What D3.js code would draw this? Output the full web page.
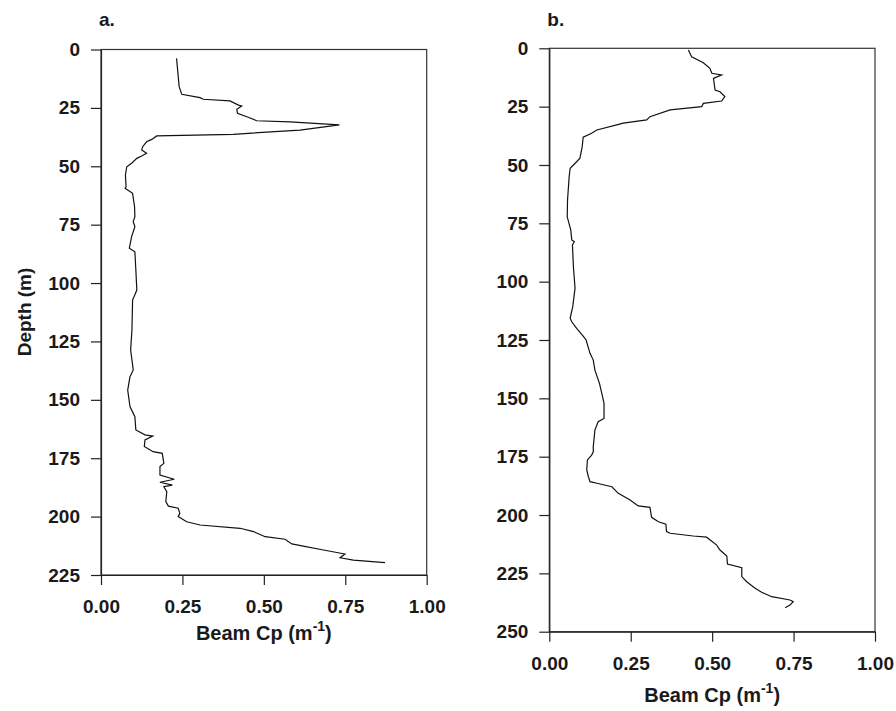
<!DOCTYPE html>
<html>
<head>
<meta charset="utf-8">
<script src="https://cdn.jsdelivr.net/npm/d3@7"></script>
<style>
  body { margin: 0; background: #fff; }
  svg text { font-family: "Liberation Sans", Arial, sans-serif; font-weight: bold; fill: #1a1a1a; }
</style>
</head>
<body>
<svg id="chart" width="896" height="711"></svg>
<script>
// profile a
const depthA = [3.8, 15.9, 19.2, 20.6, 21.3, 22.0, 23.8, 24.2, 25.6, 27.3, 29.0, 30.5, 31.0, 32.3, 34.5, 36.3, 37.0, 38.5, 39.5, 41.6, 43.0, 44.4, 45.6, 46.6, 48.7, 50.2, 53.7, 58.7, 59.4, 61.6, 67.3, 71.6, 73.7, 75.9, 80.1, 85.1, 86.6, 94.4, 103, 107.3, 120.1, 128.7, 137.2, 140.1, 145.8, 152.9, 157.2, 162.9, 165, 165.5, 167.2, 170, 172.2, 172.9, 177.2, 178.6, 182.2, 184, 185.3, 186.5, 187.2, 189.3, 193.6, 195.5, 196.4, 198.6, 200, 202.2, 203.6, 205, 206.4, 208.6, 209.7, 211.7, 212.6, 214.3, 216, 217.6, 218.6, 219.7];
const cpA = [0.232, 0.240, 0.248, 0.304, 0.314, 0.396, 0.422, 0.432, 0.417, 0.419, 0.452, 0.478, 0.580, 0.732, 0.611, 0.406, 0.171, 0.156, 0.140, 0.128, 0.125, 0.140, 0.125, 0.110, 0.094, 0.079, 0.075, 0.077, 0.074, 0.097, 0.103, 0.104, 0.099, 0.104, 0.094, 0.087, 0.104, 0.107, 0.110, 0.097, 0.095, 0.091, 0.099, 0.089, 0.082, 0.089, 0.104, 0.107, 0.135, 0.159, 0.135, 0.133, 0.160, 0.188, 0.193, 0.181, 0.181, 0.225, 0.181, 0.219, 0.193, 0.202, 0.199, 0.207, 0.237, 0.242, 0.237, 0.263, 0.304, 0.427, 0.468, 0.504, 0.565, 0.586, 0.621, 0.683, 0.749, 0.734, 0.775, 0.872];

// profile b
const depthB = [0.7, 3.6, 6.2, 8.6, 10.7, 11.4, 12.9, 17.9, 18.6, 20.7, 22.6, 23.6, 25, 26.4, 29.3, 30.7, 32.1, 32.8, 35, 36.4, 38.1, 42.2, 47.1, 48.6, 51.4, 55, 65, 72.2, 77.9, 82.1, 82.9, 84.3, 93.6, 102.8, 110.7, 115.7, 117.2, 120, 123.3, 125, 130.7, 133.6, 137.9, 143.6, 147.8, 152.1, 158.6, 160, 163.6, 170.7, 172.9, 174.3, 176.4, 180.7, 183.6, 185.7, 186.4, 187.9, 190.7, 193.6, 196.1, 196.7, 201, 202.9, 203.9, 207.1, 207.8, 209, 209.5, 212.9, 215, 217.6, 221, 222.6, 226.4, 228.6, 231.4, 233.1, 235, 236.4, 237.1, 238.6, 239.7];
const cpB = [0.427, 0.437, 0.473, 0.493, 0.499, 0.529, 0.504, 0.509, 0.524, 0.539, 0.529, 0.473, 0.468, 0.371, 0.309, 0.299, 0.227, 0.207, 0.146, 0.130, 0.104, 0.101, 0.094, 0.084, 0.064, 0.061, 0.056, 0.055, 0.066, 0.069, 0.077, 0.071, 0.074, 0.079, 0.072, 0.064, 0.069, 0.084, 0.104, 0.113, 0.125, 0.135, 0.140, 0.154, 0.161, 0.168, 0.168, 0.150, 0.140, 0.135, 0.135, 0.130, 0.117, 0.115, 0.120, 0.125, 0.146, 0.192, 0.212, 0.248, 0.273, 0.309, 0.314, 0.335, 0.358, 0.360, 0.371, 0.442, 0.483, 0.514, 0.524, 0.545, 0.547, 0.591, 0.591, 0.606, 0.632, 0.652, 0.683, 0.739, 0.749, 0.739, 0.724];

const xTicks = [0, 0.25, 0.5, 0.75, 1];
const yTicksA = [0, 25, 50, 75, 100, 125, 150, 175, 200, 225];
const yTicksB = [0, 25, 50, 75, 100, 125, 150, 175, 200, 225, 250];

const svg = d3.select('#chart');

function drawPanel(o) {
    const x = d3.scaleLinear().domain([0, 1]).range([o.x0, o.x1]);
    const y = d3.scaleLinear().domain([0, o.maxD]).range([o.y0, o.y1]);
    const g = svg.append('g');

    // frame
    g.append('rect')
        .attr('x', o.x0).attr('y', o.y0)
        .attr('width', o.x1 - o.x0).attr('height', o.y1 - o.y0)
        .attr('fill', 'none').attr('stroke', '#333').attr('stroke-width', 1.2);

    const xAxis = g.append('g')
        .attr('transform', `translate(0, ${o.y1})`)
        .call(d3.axisBottom(x).tickValues(xTicks).tickFormat(d3.format('.2f'))
            .tickSize(10).tickSizeOuter(0).tickPadding(15));
    const yAxis = g.append('g')
        .attr('transform', `translate(${o.x0}, 0)`)
        .call(d3.axisLeft(y).tickValues(o.yTicks).tickSize(10).tickSizeOuter(0).tickPadding(11));
    [xAxis, yAxis].forEach((a) => {
        a.selectAll('path, line').attr('stroke', '#222').attr('stroke-width', 1.2);
        a.selectAll('text').style('font-size', '19px').attr('fill', '#1a1a1a');
        a.attr('font-family', null);
    });

    // profile line
    const pts = o.depth.map((d, i) => ({ d: d, v: o.cp[i] }));
    g.append('path')
        .datum(pts)
        .attr('fill', 'none')
        .attr('stroke', '#111')
        .attr('stroke-width', 1.2)
        .attr('d', d3.line().x((p) => x(p.v)).y((p) => y(p.d)));

    // x title
    const t = g.append('text')
        .attr('x', (o.x0 + o.x1) / 2).attr('y', o.titleY)
        .attr('text-anchor', 'middle')
        .style('font-size', '20px');
    t.append('tspan').text('Beam Cp (m');
    t.append('tspan').attr('dy', -9).style('font-size', '14px').text('-1');
    t.append('tspan').attr('dy', 9).text(')');

    g.append('text')
        .attr('x', o.x0 - 2).attr('y', 26)
        .style('font-size', '19px')
        .text(o.label);
}

drawPanel({ x0: 101, x1: 426.7, y0: 49.5, y1: 575, maxD: 225, yTicks: yTicksA,
    depth: depthA, cp: cpA, titleY: 640, label: 'a.' });
drawPanel({ x0: 549.3, x1: 875, y0: 48.3, y1: 631.7, maxD: 250, yTicks: yTicksB,
    depth: depthB, cp: cpB, titleY: 702, label: 'b.' });

svg.append('text')
    .attr('transform', 'translate(31, 312) rotate(-90)')
    .attr('text-anchor', 'middle')
    .style('font-size', '19px')
    .text('Depth (m)');
</script>
</body>
</html>
